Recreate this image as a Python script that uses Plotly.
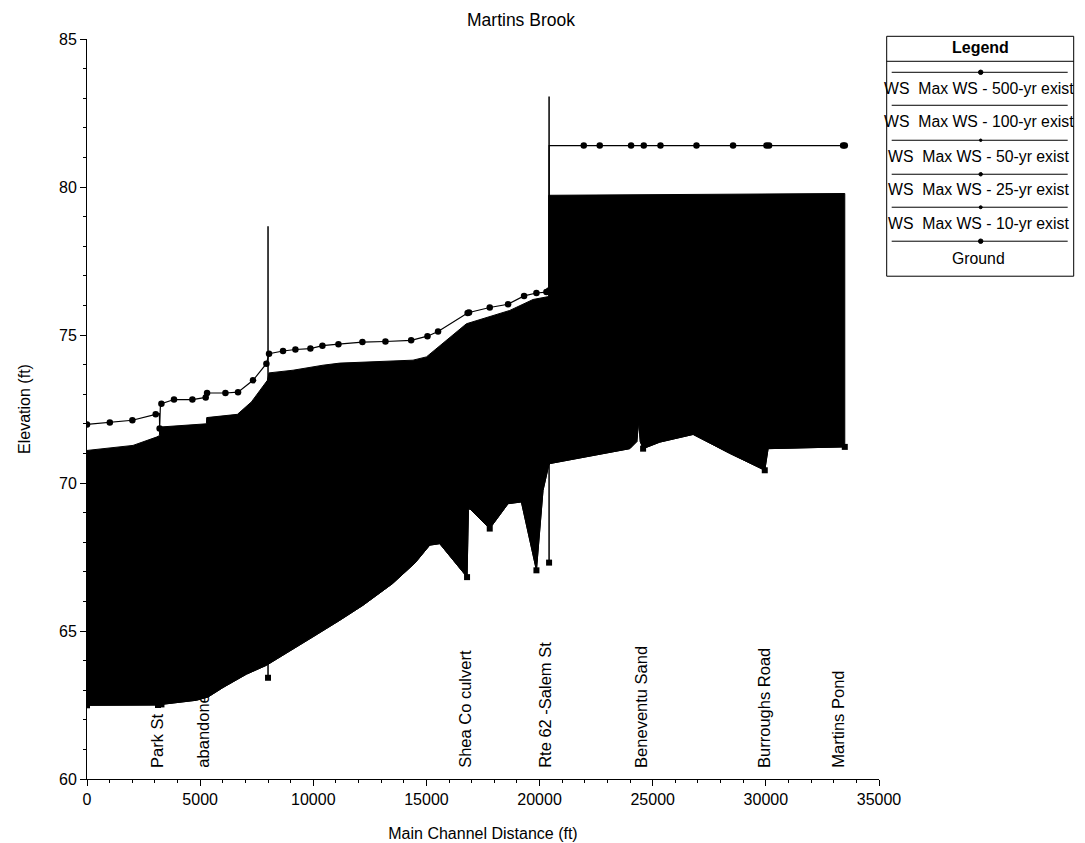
import plotly.graph_objects as go

# ---------------- data ----------------
# Water surface (Max WS - 500-yr exist) profile
ws_x = [0, 1008, 2005, 3036, 3200, 3210, 3240, 3288, 3845, 4658, 5246, 5306, 6117, 6674,
        7337, 7928, 8044, 8663, 9210, 9873, 10404, 11111, 12171, 13189, 14325, 15045,
        15513, 16820, 16883, 17798, 18608, 19314, 19861, 20304, 20420, 20420,
        20480, 21953, 22660, 24044, 24605, 25343, 26934, 28551, 30027, 30141, 33413, 33488]
ws_y = [71.98, 72.04, 72.12, 72.32, 72.35, 71.84, 72.55, 72.68, 72.82, 72.82, 72.89, 73.04, 73.04, 73.07,
        73.47, 74.03, 74.37, 74.46, 74.51, 74.54, 74.64, 74.69, 74.76, 74.78, 74.82, 74.96,
        75.12, 75.74, 75.76, 75.93, 76.04, 76.32, 76.42, 76.45, 76.50, 81.40,
        81.40, 81.40, 81.40, 81.40, 81.40, 81.40, 81.40, 81.40, 81.40, 81.40, 81.40, 81.40]
ws_marker_x = [0, 1008, 2005, 3036, 3210, 3288, 3845, 4658, 5246, 5306, 6117, 6674, 7337,
               7928, 8044, 8663, 9210, 9873, 10404, 11111, 12171, 13189, 14325, 15045, 15513,
               16820, 16883, 17798, 18608, 19314, 19861, 20304, 20420, 21953, 22660, 24044,
               24605, 25343, 26934, 28551, 30027, 30141, 33413, 33488]

# Upper edge of the filled (black) region
top_x = [0, 2033, 3067, 3200, 3213, 5277, 5290, 6647, 7266, 7973, 8044, 9105, 10430, 11169,
         14408, 15000, 16767, 18682, 19713, 20304, 20405, 20405, 26000, 33488]
top_y = [71.10, 71.27, 71.55, 71.60, 71.89, 72.00, 72.21, 72.32, 72.74, 73.47, 73.72, 73.81, 73.98, 74.05,
         74.15, 74.26, 75.38, 75.83, 76.20, 76.28, 76.30, 79.72, 79.75, 79.78]

# Ground (channel invert) profile
gnd_x = [0, 1000, 2000, 3138, 3213, 3290, 4835, 5350, 6011, 7045, 7928, 8810, 9989, 11169,
         12200, 13500, 14500, 15146, 15588, 16795, 16856, 16914, 17798, 18608, 19196, 19861,
         20153, 20405, 20480, 23986, 24300, 24380, 24450, 24575, 25312, 26786, 28405, 29952,
         30100, 33488]
gnd_y = [62.49, 62.50, 62.50, 62.50, 62.55, 62.52, 62.66, 62.77, 63.09, 63.54, 63.84, 64.24, 64.80, 65.36,
         65.87, 66.60, 67.30, 67.90, 67.95, 66.82, 69.08, 69.13, 68.46, 69.30, 69.36, 67.05,
         69.75, 70.60, 70.66, 71.16, 71.40, 72.10, 71.40, 71.16, 71.38, 71.64, 71.00, 70.43,
         71.16, 71.22]
gnd_marker_x = [0, 3138, 3290, 16795, 17798, 19861, 24575, 29952, 33488]
gnd_marker_y = [62.49, 62.50, 62.52, 66.82, 68.46, 67.05, 71.16, 70.43, 71.22]

# Vertical structure lines (bridge / culvert) : x, bottom, top
struct_x = [8000, 20420]
struct_bot = [63.42, 67.31]
struct_top = [78.67, 83.06]

# Reach labels
label_text = ["Park St", "abandone", "Shea Co culvert", "Rte 62 -Salem St",
              "Beneventu Sand", "Burroughs Road", "Martins Pond"]
label_x = [3066, 5127, 16693, 20229, 24472, 29908, 33193]

legend_names = ["WS  Max WS - 500-yr exist", "WS  Max WS - 100-yr exist",
                "WS  Max WS - 50-yr exist", "WS  Max WS - 25-yr exist",
                "WS  Max WS - 10-yr exist", "Ground"]

FONT = "Arial, Liberation Sans, sans-serif"

fig = go.Figure()

# black filled region
poly_x = top_x + gnd_x[::-1]
poly_y = top_y + gnd_y[::-1]
fig.add_trace(go.Scatter(x=poly_x, y=poly_y, mode="lines", fill="toself",
                         fillcolor="black", line=dict(color="black", width=1),
                         hoverinfo="skip", showlegend=False))

# structure vertical lines
for sx, sb, st in zip(struct_x, struct_bot, struct_top):
    fig.add_trace(go.Scatter(x=[sx, sx], y=[sb, st], mode="lines",
                             line=dict(color="black", width=1.5), showlegend=False))
fig.add_trace(go.Scatter(x=struct_x, y=struct_bot, mode="markers",
                         marker=dict(symbol="square", size=6, color="black"), showlegend=False))

# ground line
fig.add_trace(go.Scatter(x=gnd_x, y=gnd_y, mode="lines", line=dict(color="black", width=1),
                         name="Ground", showlegend=False))
fig.add_trace(go.Scatter(x=gnd_marker_x, y=gnd_marker_y, mode="markers",
                         marker=dict(symbol="square", size=6, color="black"), showlegend=False))

# WS line
ws_marker_y = [ws_y[ws_x.index(v)] if v in ws_x else None for v in ws_marker_x]
fig.add_trace(go.Scatter(x=ws_x, y=ws_y, mode="lines", line=dict(color="black", width=1.2),
                         name=legend_names[0], showlegend=False))
fig.add_trace(go.Scatter(x=ws_marker_x, y=ws_marker_y, mode="markers",
                         marker=dict(symbol="circle", size=6.5, color="black"), showlegend=False))

# reach labels
for t, lx in zip(label_text, label_x):
    fig.add_annotation(x=lx, y=60.3, xref="x", yref="y", text=t, textangle=-90,
                       showarrow=False, xanchor="center", yanchor="bottom",
                       font=dict(family=FONT, size=16.5, color="black"))

# ---------- custom legend box (page pixel -> paper helpers) ----------
L, R, T, B = 87.3, 879.3, 38.7, 779.0
def px(x):
    return (x - L) / (R - L)
def py(y):
    return (B - y) / (B - T)

shapes = []
shapes.append(dict(type="rect", xref="paper", yref="paper", x0=px(887), x1=px(1074),
                   y0=py(276), y1=py(36), line=dict(color="black", width=1)))
shapes.append(dict(type="line", xref="paper", yref="paper", x0=px(887), x1=px(1074),
                   y0=py(61), y1=py(61), line=dict(color="black", width=1)))
line_rows = [72, 105, 140, 174, 207, 241]
text_rows = [88, 121, 156, 189, 223, 258]
marker_sizes = [3.5, 0, 1.5, 2.5, 2, 3.5]
for ly, ms in zip(line_rows, marker_sizes):
    shapes.append(dict(type="line", xref="paper", yref="paper", x0=px(892), x1=px(1068),
                       y0=py(ly), y1=py(ly), line=dict(color="black", width=1)))
    if ms > 0:
        shapes.append(dict(type="circle", xref="paper", yref="paper",
                           x0=px(981 - ms / 2 - 0.5), x1=px(981 + ms / 2 + 0.5),
                           y0=py(ly + ms / 2 + 0.5), y1=py(ly - ms / 2 - 0.5),
                           fillcolor="black", line=dict(color="black", width=1)))
fig.add_annotation(x=px(981), y=py(47), xref="paper", yref="paper", text="<b>Legend</b>",
                   showarrow=False, xanchor="center", yanchor="middle",
                   font=dict(family=FONT, size=16, color="black"))
for name, ty in zip(legend_names, text_rows):
    fig.add_annotation(x=px(979), y=py(ty), xref="paper", yref="paper", text=name,
                       showarrow=False, xanchor="center", yanchor="middle",
                       font=dict(family=FONT, size=15.8, color="black"))

# title
fig.add_annotation(x=px(521), y=py(20), xref="paper", yref="paper", text="Martins Brook",
                   showarrow=False, xanchor="center", yanchor="middle",
                   font=dict(family=FONT, size=17.5, color="black"))

# page has an 8px body margin -> figure origin is at page (8, 8)
W, H = 1077, 835
OFF = 8
fig.update_layout(
    width=W, height=H,
    margin=dict(l=L - OFF, r=W - (R - OFF), t=T - OFF, b=H - (B - OFF), pad=0, autoexpand=False),
    paper_bgcolor="white", plot_bgcolor="white",
    shapes=shapes,
    showlegend=False,
    font=dict(family=FONT, color="black"),
)
fig.update_xaxes(range=[0, 35000], tickmode="linear", tick0=0, dtick=5000, tickformat="d",
                 showgrid=False, zeroline=False, showline=True, linecolor="black", linewidth=1,
                 ticks="outside", ticklen=6, tickcolor="black",
                 minor=dict(ticks="outside", dtick=1000, ticklen=3, tickcolor="black"),
                 tickfont=dict(family=FONT, size=16, color="black"),
                 title=dict(text="Main Channel Distance (ft)", standoff=20,
                            font=dict(family=FONT, size=16, color="black")))
fig.update_yaxes(range=[60, 85], tickmode="linear", tick0=60, dtick=5,
                 showgrid=False, zeroline=False, showline=True, linecolor="black", linewidth=1,
                 ticks="outside", ticklen=6, tickcolor="black",
                 minor=dict(ticks="outside", dtick=1, ticklen=3, tickcolor="black"),
                 tickfont=dict(family=FONT, size=16, color="black"),
                 title=dict(text="Elevation (ft)", standoff=24,
                            font=dict(family=FONT, size=16, color="black")))

fig.write_html("out.html")
